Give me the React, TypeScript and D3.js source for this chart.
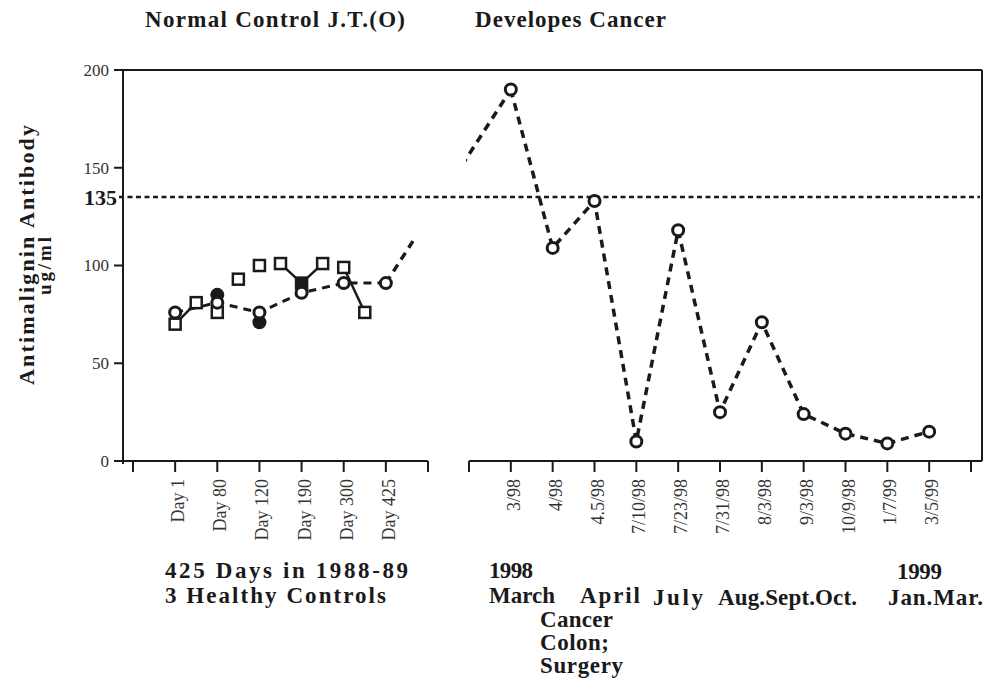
import React from 'react';
import * as d3 from 'd3';

const yTicks = [0, 50, 100, 150, 200];
const threshold = 135;

// left panel: 425 days, three healthy controls (slot = tick index)
const controlTicks = ['', 'Day 1', 'Day 80', 'Day 120', 'Day 190', 'Day 300', 'Day 425', ''];
const jtSlots = [1, 2, 3, 4, 5, 6];
const jtValues = [76, 81, 76, 86, 91, 91];
const squareSlots = [1, 1.5, 2, 2.5, 3, 3.5, 4, 4.5, 5, 5.5];
const squareValues = [70, 81, 76, 93, 100, 101, 91, 101, 99, 76];
const solidSquareSlots = [4];
// only these square pairs are joined in the original
const squareLinks = [[0, 1], [5, 6], [6, 7], [8, 9]];
const dotSlots = [2, 3];
const dotValues = [85, 71];

// right panel: J.T. develops cancer
const cancerTicks = ['', '3/98', '4/98', '4.5/98', '7/10/98', '7/23/98', '7/31/98', '8/3/98', '9/3/98', '10/9/98', '1/7/99', '3/5/99', ''];
const cancerValues = [190, 109, 133, 10, 118, 25, 71, 24, 14, 9, 15];

const serif = '"Liberation Serif", "Times New Roman", serif';
const ink = '#1a1a1a';

type Label = { t: string; x: number; y: number; len: number };
const bottomLabels: Label[] = [
    { t: '425 Days in 1988-89', x: 165, y: 578, len: 243 },
    { t: '3 Healthy Controls', x: 165, y: 603, len: 221 },
    { t: '1998', x: 489, y: 578, len: 44 },
    { t: 'March', x: 489, y: 603, len: 66 },
    { t: 'April', x: 580, y: 603, len: 60 },
    { t: 'Cancer', x: 540, y: 627, len: 73 },
    { t: 'Colon;', x: 540, y: 650, len: 69 },
    { t: 'Surgery', x: 540, y: 673, len: 83 },
    { t: 'July', x: 653, y: 605, len: 50 },
    { t: 'Aug.Sept.Oct.', x: 718, y: 605, len: 139 },
    { t: '1999', x: 897, y: 579, len: 45 },
    { t: 'Jan.Mar.', x: 888, y: 605, len: 95 },
];

export default function App() {
    const W = 987, H = 690;
    const top = 70, base = 461, frameL = 123, frameR = 982;
    const y = d3.scaleLinear().domain([0, 200]).range([base, top]);
    const xL = d3.scaleLinear().domain([0, controlTicks.length - 1]).range([133, 428]);
    const xR = d3.scaleLinear().domain([0, cancerTicks.length - 1]).range([469, 971]);
    const line = d3.line<[number, number]>();

    const jtPts: [number, number][] = jtSlots.map((s, i) => [xL(s), y(jtValues[i])]);
    const sqPts: [number, number][] = squareSlots.map((s, i) => [xL(s), y(squareValues[i])]);
    const dotPts: [number, number][] = dotSlots.map((s, i) => [xL(s), y(dotValues[i])]);
    const cPts: [number, number][] = cancerValues.map((v, i) => [xR(i + 1), y(v)]);
    const bridge: [number, number][] = [jtPts[jtPts.length - 1], cPts[0]];

    const sq = 11, r = 5.5;

    return (
        <svg width={W} height={H} style={{ position: 'absolute', left: 0, top: 0, background: '#fff' }} fontFamily={serif}>
            <defs>
                <clipPath id="gap">
                    <rect x={0} y={0} width={414} height={H} />
                    <rect x={466} y={0} width={W - 466} height={H} />
                </clipPath>
            </defs>

            {/* titles */}
            <text x={145} y={27} fontSize={23} fontWeight="bold" fill={ink} textLength={260} lengthAdjust="spacing">Normal  Control J.T.(O)</text>
            <text x={475} y={27} fontSize={23} fontWeight="bold" fill={ink} textLength={191} lengthAdjust="spacing">Developes Cancer</text>

            {/* y title */}
            <text transform={`translate(34,385) rotate(-90)`} fontSize={22} fontWeight="bold" fill={ink} textLength={260} lengthAdjust="spacing">Antimalignin  Antibody</text>
            <text transform={`translate(51,295) rotate(-90)`} fontSize={19} fontWeight="bold" fill={ink} textLength={58} lengthAdjust="spacing">ug/ml</text>

            {/* frame */}
            <g stroke={ink} strokeWidth={2} fill="none">
                <line x1={frameL} y1={top} x2={frameR} y2={top} />
                <line x1={frameL} y1={top} x2={frameL} y2={base + 3} />
                <line x1={frameR} y1={top} x2={frameR} y2={base} />
                <line x1={frameL} y1={base} x2={xL.range()[1]} y2={base} />
                <line x1={xR.range()[0]} y1={base} x2={frameR} y2={base} />
                {yTicks.map(t => <line key={t} x1={frameL - 9} x2={frameL} y1={y(t)} y2={y(t)} />)}
                {controlTicks.map((_, i) => <line key={'l' + i} x1={xL(i)} x2={xL(i)} y1={base} y2={base + 11} />)}
                {cancerTicks.map((_, i) => <line key={'r' + i} x1={xR(i)} x2={xR(i)} y1={base} y2={base + 11} />)}
            </g>

            {/* y tick labels */}
            {yTicks.map(t => (
                <text key={t} x={frameL - 14} y={y(t)} dy="0.35em" textAnchor="end" fontSize={17} fill="#333">{t}</text>
            ))}
            <text x={117} y={y(threshold)} dy="0.35em" textAnchor="end" fontSize={22} fontWeight="bold" fill={ink}>{threshold}</text>
            <line x1={119} x2={frameR - 2} y1={y(threshold)} y2={y(threshold)} stroke={ink} strokeWidth={2.5} strokeDasharray="5 3.5" />

            {/* x tick labels */}
            {controlTicks.map((t, i) => t && (
                <text key={'lt' + i} transform={`translate(${xL(i) + 9},479) rotate(-90)`} textAnchor="end" fontSize={18} fill="#333">{t}</text>
            ))}
            {cancerTicks.map((t, i) => t && (
                <text key={'rt' + i} transform={`translate(${xR(i) + 9},479) rotate(-90)`} textAnchor="end" fontSize={18} fill="#333">{t}</text>
            ))}

            {/* lines */}
            {squareLinks.map(([a, b], i) => (
                <path key={'sl' + i} d={line([sqPts[a], sqPts[b]])!} fill="none" stroke={ink} strokeWidth={2.5} />
            ))}
            <path d={line(jtPts)!} fill="none" stroke={ink} strokeWidth={3} strokeDasharray="8 6" />
            <path d={line(bridge)!} fill="none" stroke={ink} strokeWidth={3.5} strokeDasharray="8 6" clipPath="url(#gap)" />
            <path d={line(cPts)!} fill="none" stroke={ink} strokeWidth={3.5} strokeDasharray="8 6" />

            {/* markers */}
            {dotPts.map((p, i) => <circle key={'d' + i} cx={p[0]} cy={p[1]} r={7} fill={ink} />)}
            {sqPts.map((p, i) => (
                <rect key={'s' + i} x={p[0] - sq / 2} y={p[1] - sq / 2} width={sq} height={sq}
                    fill={solidSquareSlots.includes(squareSlots[i]) ? ink : '#fff'} stroke={ink} strokeWidth={2.5} />
            ))}
            {jtPts.map((p, i) => <circle key={'j' + i} cx={p[0]} cy={p[1]} r={r} fill="#fff" stroke={ink} strokeWidth={3} />)}
            {cPts.map((p, i) => <circle key={'c' + i} cx={p[0]} cy={p[1]} r={r} fill="#fff" stroke={ink} strokeWidth={3} />)}

            {/* bottom annotations */}
            {bottomLabels.map((l, i) => (
                <text key={'b' + i} x={l.x} y={l.y} fontSize={23} fontWeight="bold" fill={ink} textLength={l.len} lengthAdjust="spacing">{l.t}</text>
            ))}
        </svg>
    );
}
